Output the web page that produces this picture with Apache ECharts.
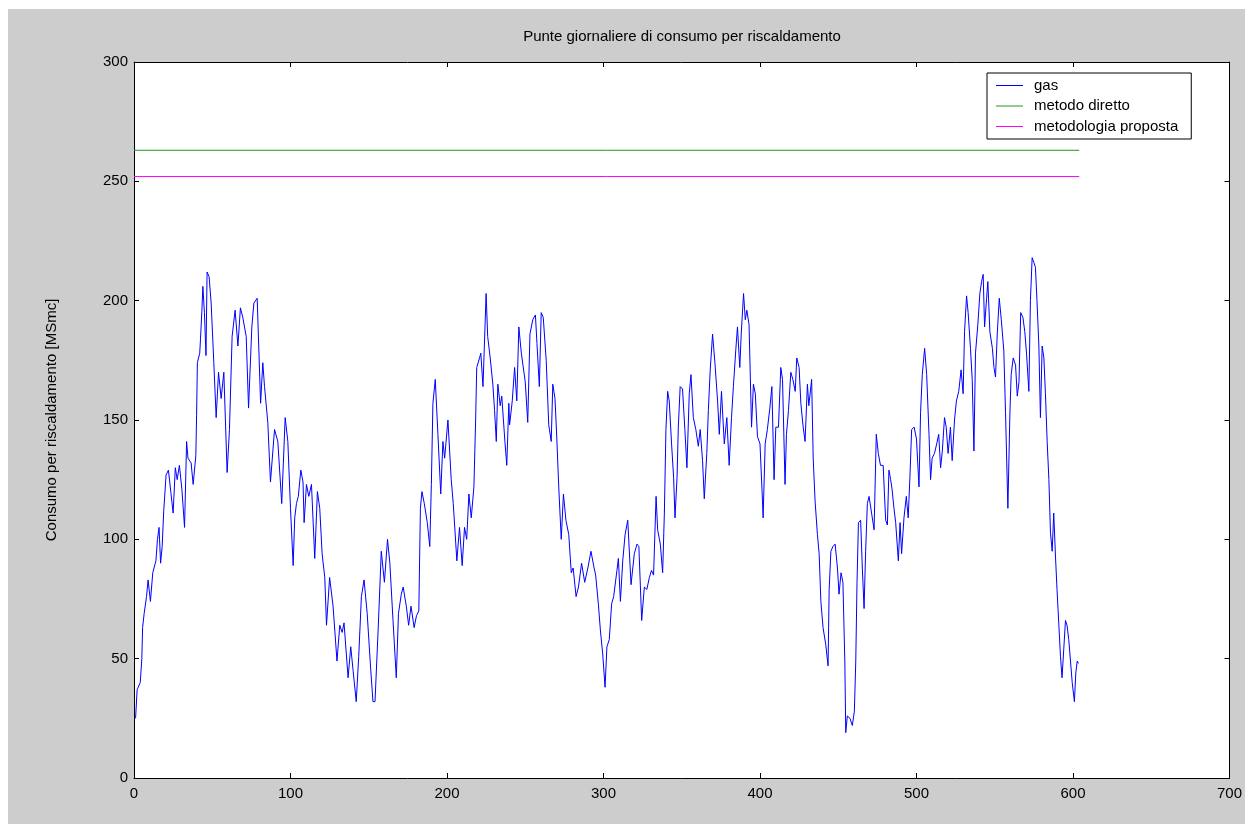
<!DOCTYPE html>
<html>
<head>
<meta charset="utf-8">
<script src="https://cdn.jsdelivr.net/npm/echarts@6/dist/echarts.min.js"></script>
<style>
  html, body { margin: 0; padding: 0; background: #ffffff; width: 1245px; height: 824px; overflow: hidden; }
  #chart { position: absolute; left: 8px; top: 9px; width: 1237px; height: 815px; background: #cdcdcd; }
</style>
</head>
<body>
<div id="chart"></div>
<script>
// ---- data ----
const titleText = 'Punte giornaliere di consumo per riscaldamento';
const yAxisName = 'Consumo per riscaldamento [MSmc]';
const seriesNames = ['gas', 'metodo diretto', 'metodologia proposta'];
const xTicks = [0, 700, 100];   // min, max, step
const yTicks = [0, 300, 50];

const gasDays = [
  1,2,4,5,5.5,6.5,8,9,10.5,12,14,15,16,17,18,19,20.5,22,23.5,25,26.4,27.6,29,30.6,32.3,33.6,34.5,36.5,37.8,39.5,40,40.5,42,42.5,43.4,44,45,46,46.7,48,49.3,51,52.5,54,55.7,57.4,59.5,61,62.7,64.6,66.4,68,69.5,71.7,73.2,75.3,76.6,78.7,80.9,82.3,83.4,85.5,87.2,89.8,91.9,94.4,96.6,98.3,100,101.7,102.7,103.8,105,106.6,108,108.7,110.2,111.7,113.4,115.5,117.2,118.7,120.2,121.9,123,125,127.2,129.7,131.5,133,134.2,136.8,138.5,140,142,143.6,145.3,147,149,151.2,152.7,154,156,158,160,162,163.5,165.5,167.6,169,170.8,172,174,175.5,177,179,180.5,182,183,184,185.5,187.4,189,190,191,192.5,194.2,196,197.4,198.5,200.6,202.7,204,206.3,208,209.7,211.2,212.6,214,215.5,217.2,218.3,219,220.8,221.6,223,225,226,227.6,229.3,230.4,231.5,232.5,234,235,237,238.2,239.5,240,241.7,243.2,244.6,245.9,247.5,248.5,250,251.6,253,254.8,256.5,257.5,259,260.2,261.5,263.4,265,266.6,267.6,269,270,271.4,273,274.4,276,277.8,279.4,280.6,282.5,284,286,288,290,292,294,295,296.7,298,299.5,301,302.2,303.7,305.2,306.5,308.6,309.5,310.8,312.3,313.8,315.5,317.6,319.7,321.4,322.6,324.4,326.1,327.7,329.3,330.7,332,333.6,334.6,336.3,337.8,338.9,339.9,341,342,343.5,344.8,345.7,347,347.8,349,350.5,352,353.3,354.8,355.9,357.4,359,360.6,361.8,363.3,364.4,366,367,368.2,369.7,371.2,372.9,374,375.4,377.2,378.8,380.3,381.8,383,384.6,385.6,387.1,388,389.5,390.6,391.6,393,394.6,395.8,397,398.4,400,401.6,402,403.3,404.7,406.3,407.6,409,410.1,411.8,413.3,414.4,416,416.9,418.2,419.7,421,422.5,423.5,425,426.1,427.6,428.8,430.3,431.2,433,434,435.2,436.7,437.8,438.9,440.3,442,443.5,444.2,445.3,446.6,448,449.5,450.5,451.8,453,454.2,454.8,455.8,457.5,459,460.3,461.2,462,462.9,464.3,465.4,466.5,467.5,468.6,469.7,471.3,472.9,474.3,475.6,477,478.7,480.3,481.4,482.4,483.5,484.4,485.6,486.7,488.4,489.5,490.5,492,493.5,494.7,495.8,496.9,498.5,500,501.6,502.6,503.7,505.2,506.5,508,509,510,511.5,512.9,514.2,515.4,516.5,517.9,519,520.2,521.7,522.8,524.3,525.5,527,528.5,529.8,530.7,532,533,534.5,535.6,536.7,537.7,539.2,540.5,541.6,542.6,543.5,544.8,545.6,546.9,548.5,549.5,550.5,551.6,552.9,554.2,555.8,556.9,558.4,559.7,560.5,561.8,563.3,564.4,565.5,566.6,568,569.2,570.3,571.8,572.8,573.9,575,576,577,578.2,579.2,580.3,581.4,582.4,583.5,584.6,585.6,586.7,587.7,588.8,589.8,590.9,592,593,594.1,595.2,596.2,597.3,598.4,599.5,600.9,601.8,602.7,603.5
];
const gasValues = [
  25,37,40,50,63,69,76,83,74,86,91,100,105,90,97,112,127,129,120,111,130,125,131,121,105,141,134,132,123,135,152,174,178,184,196,206,195,177,212,210,199,174,151,170,159,170,128,146,185,196,181,197,193,185,155,189,199,201,157,174,164,149,124,146,141,115,151,141,113,89,109,115,118,129,124,107,123,118,123,92,120,113,94,84,64,84,72,49,64,61,65,42,55,45,32,51,76,83,69,46,32,32,62,95,82,100,90,66,42,69,77,80,72,64,72,63,68,70,113,120,115,107,97,123,157,167,144,119,141,134,150,125,115,91,105,89,105,100,119,109,122,150,172,176,178,164,203,185,176,165,154,141,165,156,160,141,131,157,148,158,172,158,189,178,178,166,149,186,192,194,182,164,195,193,175,148,141,165,159,145,122,100,119,108,102,86,88,76,80,90,82,88,95,88,85,73,62,52,38,55,58,73,76,87,92,74,91,102,108,81,94,98,97,66,80,79,84,87,85,118,104,98,86,111,146,162,158,140,126,109,126,147,164,163,146,130,161,169,151,146,139,146,133,117,136,154,171,186,174,158,144,162,140,151,131,151,164,180,189,172,186,203,192,196,190,147,165,161,143,140,116,109,140,146,155,164,125,147,147,172,167,123,144,154,170,167,162,176,172,157,147,141,165,156,167,134,116,102,94,74,63,56,47,79,95,97,98,88,77,86,82,49,19,26,25,22,28,49,82,107,108,88,71,95,115,118,111,104,144,136,131,131,108,106,129,125,121,113,107,91,107,94,109,118,109,126,146,147,142,122,153,169,180,169,144,125,134,136,140,144,130,137,151,147,136,147,133,150,158,162,171,161,187,202,195,180,167,137,178,190,203,208,211,189,201,208,187,180,172,168,186,201,192,179,153,113,153,169,176,173,160,166,195,193,187,178,162,200,218,216,214,200,181,151,181,176,161,141,125,103,95,111,93,79,65,51,42,54,66,64,58,49,40,32,44,49,48
];
const directLevel = 263;     // metodo diretto
const proposedLevel = 252;   // metodologia proposta
const levelSpan = [0, 604];  // day range of the two reference lines

// ---- build chart ----
const gasData = gasDays.map((d, i) => [d, gasValues[i]]);
const directData = levelSpan.map(d => [d, directLevel]);
const proposedData = levelSpan.map(d => [d, proposedLevel]);

const FONT = '"Liberation Sans", Arial, sans-serif';
const axisLine = { show: true, onZero: false, lineStyle: { color: '#000', width: 1 } };
const axisTick = { show: true, inside: true, length: 5, lineStyle: { color: '#000', width: 1 } };
const lineIcon = 'path://M0,0 L54,0 L54,2 L0,2 Z';

const chart = echarts.init(document.getElementById('chart'), null, { renderer: 'canvas' });
chart.setOption({
  animation: false,
  backgroundColor: 'transparent',
  title: {
    text: titleText,
    left: 674,
    top: 20,
    textAlign: 'center',
    padding: 0,
    textStyle: { fontFamily: FONT, fontSize: 15, fontWeight: 'normal', color: '#000' }
  },
  legend: {
    data: seriesNames.map(n => ({ name: n, icon: lineIcon })),
    orient: 'vertical',
    left: 979,
    top: 64,
    padding: [5, 13, 5, 9],
    itemWidth: 27,
    itemHeight: 14,
    itemGap: 5.5,
    backgroundColor: '#fff',
    borderColor: '#000',
    borderWidth: 1,
    borderRadius: 0,
    textStyle: { fontFamily: FONT, fontSize: 15, color: '#000', padding: [0, 0, 0, 6] }
  },
  grid: { left: 126, top: 53, width: 1097, height: 716, show: true, backgroundColor: '#fff', borderWidth: 0 },
  xAxis: [
    { type: 'value', min: xTicks[0], max: xTicks[1], interval: xTicks[2], position: 'bottom',
      axisLine, axisTick, splitLine: { show: false },
      axisLabel: { fontFamily: FONT, fontSize: 15, color: '#000', margin: 8 } },
    { type: 'value', min: xTicks[0], max: xTicks[1], interval: xTicks[2], position: 'top',
      axisLine, axisTick, splitLine: { show: false }, axisLabel: { show: false } }
  ],
  yAxis: [
    { type: 'value', min: yTicks[0], max: yTicks[1], interval: yTicks[2], position: 'left',
      name: yAxisName, nameLocation: 'middle', nameRotate: 90, nameGap: 75,
      nameTextStyle: { fontFamily: FONT, fontSize: 15, color: '#000' },
      axisLine, axisTick, splitLine: { show: false },
      axisLabel: { fontFamily: FONT, fontSize: 15, color: '#000', margin: 6 } },
    { type: 'value', min: yTicks[0], max: yTicks[1], interval: yTicks[2], position: 'right',
      axisLine, axisTick, splitLine: { show: false }, axisLabel: { show: false } }
  ],
  series: [
    { name: seriesNames[0], type: 'line', data: gasData, symbol: 'none', showSymbol: false,
      lineStyle: { color: '#0000ff', width: 1 }, itemStyle: { color: '#0000ff' } },
    { name: seriesNames[1], type: 'line', data: directData, symbol: 'none', showSymbol: false,
      lineStyle: { color: '#1e9a1e', width: 1 }, itemStyle: { color: '#1e9a1e' } },
    { name: seriesNames[2], type: 'line', data: proposedData, symbol: 'none', showSymbol: false,
      lineStyle: { color: '#ff00ff', width: 1 }, itemStyle: { color: '#ff00ff' } }
  ]
});
</script>
</body>
</html>
